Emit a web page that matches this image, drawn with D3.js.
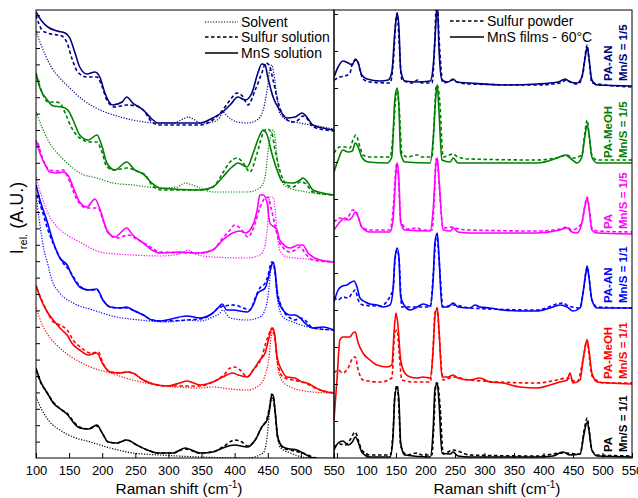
<!DOCTYPE html>
<html><head><meta charset="utf-8">
<script src="https://cdn.jsdelivr.net/npm/d3@7"></script>
<style>body{margin:0;background:#fff} text{font-family:"Liberation Sans",Arial,sans-serif}</style>
</head><body><svg id="c" width="638" height="498"></svg>
<script>
// ---------- DATA (Raman shift cm-1, relative intensity a.u., stacked) ----------
const colors = ["#000080","#008000","#ff00ff","#0000ff","#ff0000","#000000"];
const labels1 = ["PA-AN","PA-MeOH","PA","PA-AN","PA-MeOH","PA"];
const labels2 = ["Mn/S = 1/5","Mn/S = 1/5","Mn/S = 1/5","Mn/S = 1/1","Mn/S = 1/1","Mn/S = 1/1"];
const leftTicks = [100,150,200,250,300,350,400,450,500,550];
const rightTicks = [50,100,150,200,250,300,350,400,450,500,550];

// Left panel: solvent / sulfur solution / MnS solution
const navySolvent = [[100,427],[106,416],[114,403],[124,390],[136,380],[151,370],[171,358],[197,348],[222,342],[246,338],[283,335],[307,335],[322,339],[330,341],[340,338],[348,335],[367,336],[378,341],[382,346],[390,341],[404,336],[419,335],[434,338],[443,348],[449,368],[453,388],[456,393],[459,385],[464,361],[468,345],[479,338],[499,335],[533,331],[550,329]];
const navySulfurSol = [[100,443],[109,428],[117,425],[132,423],[139,422],[147,415],[154,400],[163,386],[177,381],[192,381],[200,371],[207,358],[219,351],[237,353],[252,352],[262,348],[275,336],[287,333],[348,333],[367,338],[382,348],[393,358],[404,365],[413,361],[420,353],[431,368],[441,385],[447,395],[452,393],[458,378],[464,360],[473,343],[487,336],[496,338],[503,342],[511,338],[518,331],[550,327]];
const navyMnSSol = [[100,446],[108.6,437],[118,431],[132,427],[144,425],[151,420],[159,405],[166,391],[177,384],[189,386],[197,380],[204,365],[216,353],[230,356],[237,361],[246,355],[262,348],[275,339],[284,335],[317,335],[348,335],[367,340],[382,346],[393,353],[405,361],[416,358],[426,365],[435,385],[441,394],[446,393],[450,381],[458,361],[468,348],[479,340],[491,341],[502,345],[509,341],[518,333],[533,330],[550,328]];

const greenSolvent = [[100,346],[109,331],[118,318],[132,305],[147,295],[166,285],[192,280],[216,275],[246,273],[287,270],[313,271],[325,275],[336,273],[348,270],[367,266],[393,266],[419,266],[438,270],[446,281],[450,305],[455,323],[458,328],[461,321],[464,301],[468,281],[479,271],[509,266],[550,263]];
const greenSulfurSol = [[101.5,381],[109,366],[118,356],[129,356],[136,355],[144,345],[154,330],[166,320],[182,316],[192,316],[200,305],[207,291],[219,288],[237,290],[252,287],[265,283],[275,273],[290,268],[348,268],[367,271],[382,285],[393,296],[404,300],[413,295],[423,286],[434,305],[443,325],[449,329],[456,325],[461,308],[468,288],[479,273],[488,271],[499,276],[506,275],[518,266],[550,263]];
const greenMnSSol = [[100,385],[106,370],[117,358],[126,352],[139,351],[148,348],[156,338],[166,323],[179,318],[192,323],[200,311],[207,295],[219,288],[237,296],[249,288],[262,284],[275,275],[287,270],[307,269],[348,268],[367,271],[382,281],[396,291],[405,295],[419,291],[428,305],[438,323],[443,328],[449,323],[456,305],[464,288],[473,276],[488,275],[499,278],[503,280],[511,275],[518,268],[533,265],[550,263]];

const magentaSolvent = [[100,281],[109,261],[118,245],[132,231],[147,223],[166,216],[197,206],[222,204],[246,203],[287,202],[317,204],[330,208],[340,204],[367,201],[419,200],[438,203],[446,213],[449,228],[453,261],[458,261],[464,228],[468,208],[479,201],[529,198],[550,196]];
const magentaSulfurSol = [[103,315],[111,298],[121,288],[132,287],[141,288],[151,276],[162,258],[177,250],[194,250],[201,238],[209,225],[222,220],[239,223],[254,218],[268,213],[287,206],[348,205],[367,208],[382,220],[393,228],[400,233],[411,228],[420,221],[431,235],[438,250],[446,260],[450,261],[455,250],[461,232],[468,215],[484,206],[491,208],[499,211],[506,205],[518,198],[550,196]];
const magentaMnSSol = [[100,318],[106,305],[114,293],[121,286],[132,285],[141,286],[148,283],[156,271],[166,256],[177,251],[189,259],[197,248],[207,228],[219,221],[237,230],[246,223],[262,215],[275,208],[287,205],[317,206],[348,205],[367,208],[382,218],[397,225],[408,227],[416,225],[426,231],[434,248],[438,263],[443,263],[449,255],[453,235],[464,228],[468,218],[484,210],[496,213],[503,213],[511,205],[529,198],[550,196]];

const blueSolvent = [[100,263],[106,233],[112,208],[117,196],[124,178],[136,165],[156,155],[186,148],[222,141],[257,138],[298,136],[328,138],[348,137],[367,141],[378,145],[382,148],[393,140],[419,138],[438,141],[447,150],[452,171],[455,191],[458,195],[461,185],[464,161],[473,141],[488,136],[518,130],[550,128]];
const blueSulfurSol = [[101.5,263],[109,248],[118,228],[129,210],[139,197],[151,187],[166,172],[179,168],[192,168],[201,158],[212,151],[227,150],[237,150],[249,147],[262,143],[275,138],[287,137],[348,139],[367,145],[375,150],[385,152],[400,153],[413,150],[423,148],[431,160],[438,170],[446,175],[450,182],[456,196],[459,193],[464,168],[473,148],[484,140],[491,138],[499,140],[506,138],[518,130],[550,128]];
const blueMnSSol = [[100,273],[106,258],[117,236],[126,216],[136,200],[147,193],[154,183],[166,171],[179,168],[192,169],[201,158],[212,151],[227,150],[237,151],[246,148],[262,143],[275,138],[287,137],[328,142],[348,140],[367,145],[375,150],[381,154],[388,148],[397,148],[419,146],[428,153],[435,165],[446,170],[450,178],[455,191],[458,196],[461,188],[465,161],[473,148],[484,143],[491,143],[499,140],[506,135],[518,130],[533,131],[550,128]];

const redSolvent = [[100,150],[111,131],[124,118],[136,110],[156,100],[182,91],[212,85],[246,78],[283,73],[313,71],[348,70],[367,71],[393,69],[419,68],[438,73],[447,85],[452,101],[455,121],[458,128],[461,118],[464,95],[471,78],[484,71],[518,66],[550,65]];
const redSulfurSol = [[101,170],[117,146],[126,136],[136,133],[147,128],[156,118],[169,110],[182,105],[194,106],[201,95],[212,86],[227,85],[237,86],[246,85],[262,78],[277,74],[298,72],[348,72],[367,76],[385,84],[393,90],[400,91],[408,88],[419,81],[428,88],[441,101],[447,115],[453,126],[456,130],[461,118],[465,95],[473,81],[488,78],[502,76],[529,68],[550,65]];
const redMnSSol = [[100,173],[106,161],[117,146],[126,138],[139,128],[147,123],[154,115],[166,108],[179,103],[192,105],[200,95],[212,86],[227,85],[237,86],[246,85],[262,78],[277,74],[298,72],[317,75],[328,77],[348,73],[367,76],[382,81],[397,85],[405,83],[419,81],[428,88],[438,98],[446,105],[450,115],[455,128],[458,130],[461,121],[464,101],[471,88],[479,81],[491,80],[502,76],[509,75],[529,68],[539,66],[550,65]];

const blackSolvent = [[100,61],[109,48],[121,36],[136,28],[156,21],[182,16],[212,10],[246,5],[287,3],[348,1],[419,0],[443,5],[449,21],[453,48],[456,61],[459,55],[464,28],[468,11],[484,5],[518,0],[550,0]];
const blackSulfurSol = [[100,88],[106,77],[117,65],[126,56],[139,48],[148,44],[156,37],[166,31],[179,29],[192,32],[200,25],[209,16],[222,15],[237,18],[252,13],[268,8],[283,5],[307,5],[325,9],[348,5],[367,6],[382,11],[400,18],[411,16],[419,12],[431,18],[441,31],[449,40],[453,52],[456,64],[458,62],[461,46],[465,20],[473,10],[484,8],[503,5],[518,1],[550,-2]];
const blackMnSSol = [[100,90],[106,78],[117,65],[126,55],[139,48],[148,43],[156,36],[166,30],[179,29],[192,33],[200,25],[209,16],[222,15],[237,18],[252,13],[268,8],[283,5],[307,5],[325,10],[348,5],[367,6],[382,10],[400,13],[419,11],[431,18],[441,31],[449,38],[453,51],[456,63],[458,63],[461,48],[465,21],[473,11],[484,9],[494,8],[503,5],[518,0],[550,-3]];

// Right panel: sulfur powder / MnS films - 60°C
const navyPowder = [[45,378],[55,381],[64,382],[72,385],[77,396],[84,398],[89,388],[94,379],[106,376],[140,375],[146,400],[150,440],[152,445],[155,420],[160,378],[179,375],[186,378],[194,375],[211,375],[216,420],[218,451],[220,455],[223,420],[230,375],[247,378],[253,376],[275,374],[389,373],[428,375],[439,378],[449,375],[459,374],[467,385],[470,400],[474,413],[477,400],[482,375],[550,371]];
const navyFilm = [[45,381],[52,391],[60,397],[69,395],[76,393],[81,399],[86,395],[92,383],[101,379],[123,377],[137,378],[143,386],[148,425],[152,445],[155,431],[158,388],[165,377],[186,376],[208,377],[213,391],[218,438],[220,455],[223,408],[228,378],[238,376],[247,379],[253,376],[275,375],[331,373],[389,374],[425,376],[437,379],[445,376],[457,375],[465,381],[470,398],[474,411],[477,400],[482,378],[491,373],[550,372]];
const greenPowder = [[45,305],[55,311],[64,311],[72,310],[77,318],[82,323],[89,311],[94,303],[106,301],[140,301],[146,330],[150,362],[152,368],[155,355],[160,305],[169,301],[186,303],[194,301],[211,301],[215,340],[218,371],[220,373],[224,358],[230,301],[247,304],[255,301],[275,299],[389,298],[428,301],[440,303],[450,300],[465,303],[470,325],[474,338],[477,325],[482,303],[491,298],[550,298]];
const greenFilm = [[45,286],[52,298],[60,308],[69,306],[76,307],[81,315],[86,311],[92,301],[103,296],[135,295],[143,301],[148,358],[152,370],[155,351],[158,305],[165,296],[208,295],[213,318],[218,365],[220,373],[223,345],[228,298],[242,296],[247,300],[255,295],[275,295],[389,295],[423,300],[437,303],[445,300],[457,295],[465,301],[470,321],[474,333],[477,325],[482,301],[491,295],[550,295]];
const magentaPowder = [[45,236],[55,240],[64,238],[69,241],[77,248],[84,245],[92,231],[106,228],[140,228],[146,255],[150,291],[152,295],[155,270],[158,238],[169,229],[186,230],[194,228],[211,228],[215,260],[218,299],[220,298],[223,275],[230,230],[247,231],[255,229],[275,228],[389,227],[428,229],[440,231],[448,228],[465,235],[470,252],[474,261],[477,252],[482,230],[491,227],[550,226]];
const magentaFilm = [[45,228],[55,236],[64,240],[69,238],[76,241],[81,246],[86,241],[92,231],[106,226],[140,226],[145,238],[150,285],[152,295],[155,278],[158,235],[165,228],[208,227],[213,248],[218,295],[220,300],[223,278],[230,228],[242,227],[247,230],[255,226],[275,225],[389,225],[428,228],[440,230],[448,226],[457,225],[465,235],[470,251],[474,260],[477,251],[482,228],[491,225],[550,224]];
const bluePowder = [[45,161],[52,158],[60,161],[69,160],[76,165],[81,168],[86,158],[94,153],[123,152],[145,168],[148,195],[152,208],[155,200],[160,151],[179,151],[191,151],[208,151],[214,190],[218,221],[220,220],[223,198],[230,151],[247,153],[275,150],[389,148],[433,155],[442,152],[462,150],[467,165],[472,186],[474,191],[477,182],[482,158],[491,151],[550,150]];
const blueFilm = [[45,156],[52,168],[59,172],[67,173],[72,175],[79,177],[84,171],[89,160],[98,156],[106,154],[118,153],[128,151],[140,153],[145,168],[148,198],[152,210],[155,201],[158,161],[165,152],[174,148],[186,151],[196,154],[208,152],[213,178],[216,215],[220,225],[223,201],[228,151],[238,151],[247,155],[255,151],[275,150],[284,153],[292,151],[309,150],[331,148],[360,147],[389,147],[411,150],[428,153],[440,151],[450,147],[462,150],[467,165],[472,186],[474,192],[477,181],[482,158],[491,150],[550,150]];
const redPowder = [[45,85],[52,88],[60,85],[69,90],[77,100],[81,101],[86,88],[94,78],[123,76],[143,80],[148,125],[152,128],[155,108],[160,78],[179,76],[208,76],[213,110],[216,145],[220,150],[223,125],[230,78],[247,81],[275,78],[389,75],[423,78],[440,80],[457,76],[467,98],[474,118],[477,105],[482,82],[502,75],[550,75]];
const redFilm = [[45,38],[50,78],[55,118],[60,121],[72,121],[77,125],[81,126],[86,115],[94,105],[106,98],[118,93],[135,91],[143,93],[147,128],[150,145],[153,135],[158,98],[165,85],[174,81],[186,80],[196,81],[208,80],[213,108],[216,141],[220,150],[223,128],[228,81],[238,81],[247,83],[255,80],[275,78],[292,80],[309,76],[331,75],[360,71],[389,70],[411,73],[428,76],[440,78],[445,85],[450,75],[462,78],[467,98],[472,115],[474,118],[477,108],[482,85],[491,76],[513,75],[550,74]];
const blackPowder = [[45,11],[55,14],[64,13],[72,18],[81,26],[86,18],[92,8],[106,3],[140,3],[145,25],[148,61],[152,73],[155,50],[158,12],[169,3],[186,5],[194,3],[211,3],[214,30],[218,75],[220,75],[225,50],[230,4],[247,8],[275,3],[389,2],[433,5],[462,4],[469,28],[474,40],[477,30],[482,8],[491,3],[550,2]];
const blackFilm = [[45,8],[52,15],[60,17],[69,13],[76,16],[81,21],[86,16],[92,6],[106,1],[140,1],[145,21],[148,61],[152,71],[155,58],[158,15],[165,3],[208,1],[213,28],[216,68],[220,75],[223,55],[228,5],[242,4],[247,6],[255,2],[275,1],[389,1],[416,2],[433,6],[445,3],[462,4],[469,25],[474,36],[477,28],[482,8],[491,2],[550,1]];

// ---------- CHART ----------
const solvents = [navySolvent,greenSolvent,magentaSolvent,blueSolvent,redSolvent,blackSolvent];
const sulfurSols = [navySulfurSol,greenSulfurSol,magentaSulfurSol,blueSulfurSol,redSulfurSol,blackSulfurSol];
const mnsSols = [navyMnSSol,greenMnSSol,magentaMnSSol,blueMnSSol,redMnSSol,blackMnSSol];
const powders = [navyPowder,greenPowder,magentaPowder,bluePowder,redPowder,blackPowder];
const films = [navyFilm,greenFilm,magentaFilm,blueFilm,redFilm,blackFilm];

const svg = d3.select("#c");
const T = 10, B = 458;
const xL = d3.scaleLinear().domain([100,550]).range([36,334]);
const xR = d3.scaleLinear().domain([45,550]).range([334,632]);
const y = d3.scaleLinear().domain([0,448]).range([B,T]);

const defs = svg.append("defs");
defs.append("clipPath").attr("id","cl").append("rect").attr("x",36).attr("y",T).attr("width",298).attr("height",B-T);
defs.append("clipPath").attr("id","cr").append("rect").attr("x",334).attr("y",T).attr("width",298).attr("height",B-T);

const styles = {
  dotted:{w:1.2,d:"1.2,1.5"},
  dashed:{w:1.6,d:"3.5,2.5"},
  solid:{w:1.6,d:null}
};
function drawLines(g, x, arrs, st){
  const line = d3.line().x(d=>x(d[0])).y(d=>y(d[1])).curve(d3.curveMonotoneX);
  arrs.forEach((a,i)=>{
    g.append("path").attr("d",line(a)).attr("fill","none")
      .attr("stroke",colors[i]).attr("stroke-width",st.w)
      .attr("stroke-dasharray",st.d).attr("stroke-linejoin","round");
  });
}
const gl = svg.append("g").attr("clip-path","url(#cl)");
drawLines(gl, xL, solvents, styles.dotted);
drawLines(gl, xL, sulfurSols, styles.dashed);
drawLines(gl, xL, mnsSols, styles.solid);
const gr = svg.append("g").attr("clip-path","url(#cr)");
drawLines(gr, xR, powders, styles.dashed);
drawLines(gr, xR, films, styles.solid);

// axes
function xAxis(x, majors, minors){
  const g = svg.append("g").attr("transform",`translate(0,${B})`);
  g.call(d3.axisBottom(x).tickValues(minors).tickSize(-3).tickFormat(""));
  g.call(d3.axisBottom(x).tickValues(majors).tickSizeInner(-5).tickSizeOuter(0).tickPadding(8).tickFormat(d3.format("d")));
  g.selectAll(".domain").remove();
  g.selectAll("text").attr("font-size",13).attr("fill","#000").attr("font-family","Liberation Sans, Arial, sans-serif");
  g.selectAll("line").attr("stroke","#000");
  return g;
}
xAxis(xL, leftTicks, d3.range(125,550,50));
svg.append("rect").attr("x",330.5).attr("y",B+4).attr("width",20).attr("height",18).attr("fill","#fff");
xAxis(xR, rightTicks, d3.range(75,550,50));

function yTicks(x0, step){
  const g = svg.append("g").attr("transform",`translate(${x0},0)`);
  g.call(d3.axisLeft(y).tickValues(d3.range(step,448,step)).tickSize(-4).tickFormat(""));
  g.selectAll(".domain").remove();
  g.selectAll("line").attr("stroke","#000");
}
yTicks(36, 16.4);
yTicks(334, 37);

// frames
svg.append("rect").attr("x",36).attr("y",T).attr("width",298).attr("height",B-T).attr("fill","none").attr("stroke","#000").attr("stroke-width",1);
svg.append("rect").attr("x",334).attr("y",T).attr("width",298).attr("height",B-T).attr("fill","none").attr("stroke","#000").attr("stroke-width",1);

// axis titles
function title(cx){
  const t = svg.append("text").attr("x",cx).attr("y",494).attr("text-anchor","middle").attr("font-size",15.5).attr("fill","#000");
  t.append("tspan").text("Raman shift (cm");
  t.append("tspan").attr("dy",-6).attr("font-size",10).text("-1");
  t.append("tspan").attr("dy",6).text(")");
}
title(179); title(497);

const yl = svg.append("text").attr("transform","translate(23,218) rotate(-90)").attr("text-anchor","middle").attr("font-size",18).attr("fill","#000");
yl.append("tspan").text("I");
yl.append("tspan").attr("dy",4).attr("font-size",11).text("rel.");
yl.append("tspan").attr("dy",-4).text(" (A.U.)");

// left legend
const legL = [["Solvent",styles.dotted,22],["Sulfur solution",styles.dashed,37],["MnS solution",styles.solid,53]];
legL.forEach(([t,st,yy])=>{
  svg.append("line").attr("x1",205).attr("x2",238).attr("y1",yy).attr("y2",yy).attr("stroke","#000").attr("stroke-width",st.w).attr("stroke-dasharray",st.d);
  svg.append("text").attr("x",241).attr("y",yy+5).attr("font-size",14).attr("fill","#000").text(t);
});
const legR = [["Sulfur powder",styles.dashed,21],["MnS films - 60°C",styles.solid,37]];
legR.forEach(([t,st,yy])=>{
  svg.append("line").attr("x1",450).attr("x2",484).attr("y1",yy).attr("y2",yy).attr("stroke","#000").attr("stroke-width",st.w).attr("stroke-dasharray",st.d);
  svg.append("text").attr("x",487).attr("y",yy+5).attr("font-size",14).attr("fill","#000").text(t);
});

// group labels (rotated), anchored above each film baseline
films.forEach((f,i)=>{
  const yb = y(f[f.length-1][1] + 5);
  [[labels1[i],612],[labels2[i],627]].forEach(([t,xx])=>{
    svg.append("text").attr("transform",`translate(${xx},${yb}) rotate(-90)`)
      .attr("font-size",11.5).attr("font-weight","bold").attr("fill",colors[i]).text(t);
  });
});
</script></body></html>
